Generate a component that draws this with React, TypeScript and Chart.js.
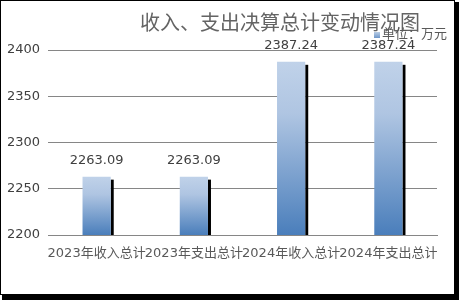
import React, { useEffect, useRef } from "react";
import { Chart, registerables } from "chart.js";

Chart.register(...registerables);

const categories = ["2023年收入总计", "2023年支出总计", "2024年收入总计", "2024年支出总计"];
const values = [2263.09, 2263.09, 2387.24, 2387.24];
const yTicks = [2200, 2250, 2300, 2350, 2400];
const titleText = "收入、支出决算总计变动情况图";
const legendText = "单位：万元";

const FONT = '"DejaVu Sans", "Noto Sans CJK SC", sans-serif';

export default function App() {
  const ref = useRef<HTMLCanvasElement | null>(null);

  useEffect(() => {
    document.body.style.margin = "0";
    const canvas = ref.current!;
    const decor = {
      id: "decor",
      beforeDraw(chart: any) {
        const ctx = chart.ctx;
        ctx.save();
        ctx.fillStyle = "#ffffff";
        ctx.fillRect(0, 0, chart.width, chart.height);
        ctx.restore();
      },
      beforeDatasetsDraw(chart: any) {
        const ctx = chart.ctx;
        const meta = chart.getDatasetMeta(0);
        const bottom = chart.chartArea.bottom;
        ctx.save();
        ctx.fillStyle = "#000000";
        meta.data.forEach((el: any) => {
          const p = el.getProps(["x", "y", "width"], true);
          const left = p.x + p.width / 2;
          const top = p.y + 3;
          ctx.fillRect(left, top, 3, bottom - top);
        });
        ctx.restore();
      },
      afterDatasetsDraw(chart: any) {
        const ctx = chart.ctx;
        const meta = chart.getDatasetMeta(0);
        ctx.save();
        ctx.font = "13px " + FONT;
        ctx.fillStyle = "#404040";
        ctx.textAlign = "center";
        ctx.textBaseline = "middle";
        meta.data.forEach((el: any, i: number) => {
          const p = el.getProps(["x", "y"], true);
          ctx.fillText(values[i].toFixed(2), p.x, p.y - 16);
        });
        ctx.restore();
      },
      afterDraw(chart: any) {
        const ctx = chart.ctx;
        ctx.save();
        // title
        ctx.font = "20px " + FONT;
        ctx.fillStyle = "#646464";
        ctx.textAlign = "center";
        ctx.textBaseline = "middle";
        ctx.fillText(titleText, 280, 25);
        // legend
        const g = ctx.createLinearGradient(0, 32, 0, 38);
        g.addColorStop(0, "#b9cde5");
        g.addColorStop(1, "#6f97c9");
        ctx.fillStyle = g;
        ctx.fillRect(374, 32, 6, 6);
        ctx.font = "13px " + FONT;
        ctx.fillStyle = "#595959";
        ctx.textAlign = "left";
        ctx.fillText(legendText, 382, 35);
        // frame
        ctx.strokeStyle = "#000000";
        ctx.lineWidth = 1;
        ctx.strokeRect(0.5, 0.5, 454, 294);
        ctx.fillStyle = "#000000";
        ctx.fillRect(455, 2, 4, 298);
        ctx.fillRect(2, 295, 457, 5);
        ctx.restore();
      },
    };

    const chart = new Chart(canvas, {
      type: "bar",
      data: {
        labels: categories,
        datasets: [
          {
            data: values,
            backgroundColor: (c: any) => {
              const area = c.chart.chartArea;
              const ys = c.chart.scales && c.chart.scales.y;
              if (!area || !ys || c.raw == null) return "#7fa3d1";
              const top = ys.getPixelForValue(c.raw);
              const g = c.chart.ctx.createLinearGradient(0, top, 0, area.bottom);
              g.addColorStop(0, "#c0d2e9");
              g.addColorStop(0.3, "#afc5e2");
              g.addColorStop(1, "#4a7ebb");
              return g;
            },
            borderWidth: 0,
            barPercentage: 0.29,
            categoryPercentage: 1,
          },
        ],
      },
      options: {
        responsive: false,
        animation: false,
        layout: { padding: { left: 0, right: 22, top: 50, bottom: 0 } },
        plugins: {
          legend: { display: false },
          title: { display: false },
          tooltip: { enabled: false },
        },
        scales: {
          x: {
            grid: { display: false },
            border: { display: true, color: "#868686" },
            ticks: {
              color: "#595959",
              font: { family: FONT, size: 13 },
              maxRotation: 0,
              autoSkip: false,
              padding: 3,
            },
            afterFit: (s: any) => {
              s.height = 65;
            },
          },
          y: {
            min: 2200,
            max: 2400,
            afterBuildTicks: (s: any) => {
              s.ticks = yTicks.map((v) => ({ value: v }));
            },
            grid: { color: "#868686", drawTicks: false },
            border: { display: false },
            ticks: {
              color: "#404040",
              font: { family: FONT, size: 13 },
              padding: 8,
              callback: (v: any) => String(v),
            },
            afterFit: (s: any) => {
              s.width = 48;
            },
          },
        },
      },
      plugins: [decor],
    });
    return () => chart.destroy();
  }, []);

  return (
    <div style={{ position: "fixed", left: 0, top: 0 }}>
      <canvas ref={ref} width={459} height={300} style={{ width: 459, height: 300, display: "block" }} />
    </div>
  );
}
